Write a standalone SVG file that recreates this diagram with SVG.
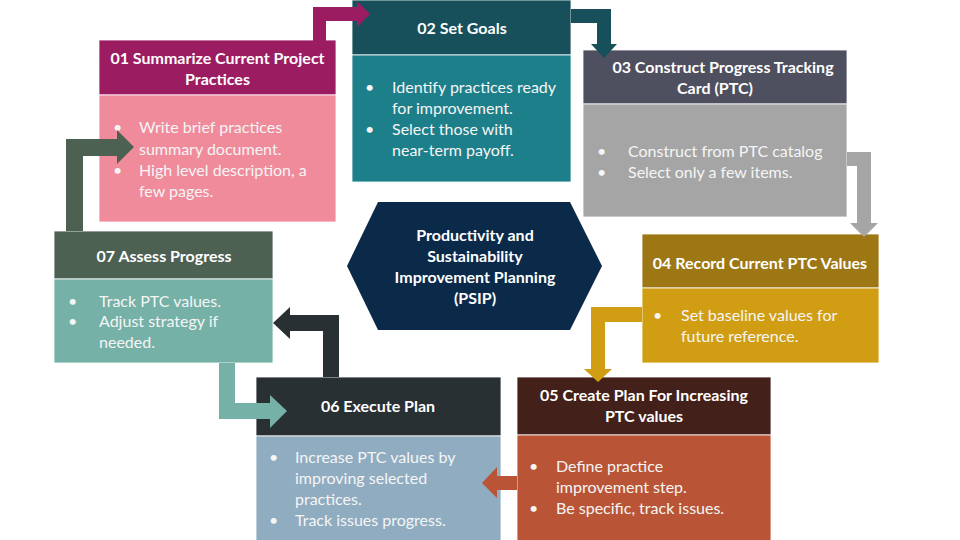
<svg xmlns="http://www.w3.org/2000/svg" width="960" height="540" viewBox="0 0 960 540">
<style>
text{font-family:Lato,"Open Sans","DejaVu Sans",sans-serif;fill:#FFFFFF;font-size:16px}
.h{font-weight:bold;text-anchor:middle}
.b{fill:#F5F5F5}
.box{stroke:#FFFFFF;stroke-width:0.8}
</style>
<rect width="960" height="540" fill="#FFFFFF"/>
<g id="center">
<polygon points="347,266 378,202 570,202 602,266 570,330 378,330" fill="#0B2A4A"/>
<text class="h" x="475" y="241">Productivity and</text>
<text class="h" x="475" y="262">Sustainability</text>
<text class="h" x="475" y="283">Improvement Planning</text>
<text class="h" x="475" y="304">(PSIP)</text>
</g>
<g id="n01">
<rect class="box" x="99" y="40" width="237" height="55" fill="#9C1C62"/>
<rect class="box" x="99" y="95" width="237" height="127" fill="#F08B9C"/>
<text class="h" x="217.5" y="64">01 Summarize Current Project</text>
<text class="h" x="217.5" y="85">Practices</text>
<text class="b" x="113" y="133">•</text><text class="b" x="139" y="133">Write brief practices</text>
<text class="b" x="139" y="155">summary document.</text>
<text class="b" x="113" y="176">•</text><text class="b" x="139" y="176">High level description, a</text>
<text class="b" x="139" y="197">few pages.</text>
</g>
<g id="n02">
<rect class="box" x="352" y="0" width="219" height="55" fill="#17505A"/>
<rect class="box" x="352" y="55" width="219" height="127" fill="#1D7F8A"/>
<text class="h" x="462" y="34">02 Set Goals</text>
<text class="b" x="365" y="93">•</text><text class="b" x="392" y="93">Identify practices ready</text>
<text class="b" x="392" y="114">for improvement.</text>
<text class="b" x="365" y="135">•</text><text class="b" x="392" y="135">Select those with</text>
<text class="b" x="392" y="156">near-term payoff.</text>
</g>
<g id="n03">
<rect class="box" x="583" y="50" width="264" height="54" fill="#4E4F5F"/>
<rect class="box" x="583" y="104" width="264" height="113" fill="#A5A5A5"/>
<text class="h" x="723" y="73">03 Construct Progress Tracking</text>
<text class="h" x="715" y="94">Card (PTC)</text>
<text class="b" x="597" y="157">•</text><text class="b" x="628" y="157">Construct from PTC catalog</text>
<text class="b" x="597" y="178">•</text><text class="b" x="628" y="178">Select only a few items.</text>
</g>
<g id="n04">
<rect class="box" x="642" y="234" width="237" height="54" fill="#9C7714"/>
<rect class="box" x="642" y="288" width="237" height="75" fill="#D19E13"/>
<text class="h" x="760" y="269">04 Record Current PTC Values</text>
<text class="b" x="653" y="321">•</text><text class="b" x="681" y="321">Set baseline values for</text>
<text class="b" x="681" y="342">future reference.</text>
</g>
<g id="n05">
<rect class="box" x="517" y="377" width="254" height="58" fill="#44201B"/>
<rect class="box" x="517" y="435" width="254" height="106" fill="#B95536"/>
<text class="h" x="644" y="401">05 Create Plan For Increasing</text>
<text class="h" x="644" y="422">PTC values</text>
<text class="b" x="529" y="472">•</text><text class="b" x="556" y="472">Define practice</text>
<text class="b" x="556" y="493">improvement step.</text>
<text class="b" x="529" y="514">•</text><text class="b" x="556" y="514">Be specific, track issues.</text>
</g>
<g id="n06">
<rect class="box" x="256" y="377" width="245" height="59" fill="#293033"/>
<rect class="box" x="256" y="436" width="245" height="105" fill="#90ACC1"/>
<text class="h" x="378" y="412">06 Execute Plan</text>
<text class="b" x="269" y="463">•</text><text class="b" x="295" y="463">Increase PTC values by</text>
<text class="b" x="295" y="484">improving selected</text>
<text class="b" x="295" y="505">practices.</text>
<text class="b" x="269" y="526">•</text><text class="b" x="295" y="526">Track issues progress.</text>
</g>
<g id="n07">
<rect class="box" x="54" y="231" width="219" height="48" fill="#4D6153"/>
<rect class="box" x="54" y="279" width="219" height="84" fill="#75B1A7"/>
<text class="h" x="164" y="262">07 Assess Progress</text>
<text class="b" x="68" y="307">•</text><text class="b" x="99" y="307">Track PTC values.</text>
<text class="b" x="68" y="327">•</text><text class="b" x="99" y="327">Adjust strategy if</text>
<text class="b" x="99" y="348">needed.</text>
</g>
<g id="connectors">
<polygon points="313,41 313,7 357,7 357,1 370,14 357,27 357,21 326,21 326,41" fill="#9C1C62"/>
<polygon points="571,9 611,9 611,44 617,44 604,58 591,44 597,44 597,23 571,23" fill="#17505A"/>
<polygon points="847,152 871,152 871,223 878,223 864,237 850,223 857,223 857,166 847,166" fill="#A5A5A5"/>
<polygon points="642,307 642,322 605,322 605,369 612,369 598,382 584,369 591,369 591,307" fill="#D19E13"/>
<polygon points="517,476 497,476 497,467 482,483 497,498 497,490 517,490" fill="#B95536"/>
<polygon points="339,377 339,315 290,315 290,307 273,323 290,339 290,331 323,331 323,377" fill="#293033"/>
<polygon points="219,363 219,419 270,419 270,428 287,411 270,395 270,403 235,403 235,363" fill="#75B1A7"/>
<polygon points="66,231 66,139 117,139 117,130 134,147 117,164 117,156 83,156 83,231" fill="#4D6153"/>
</g>
</svg>
